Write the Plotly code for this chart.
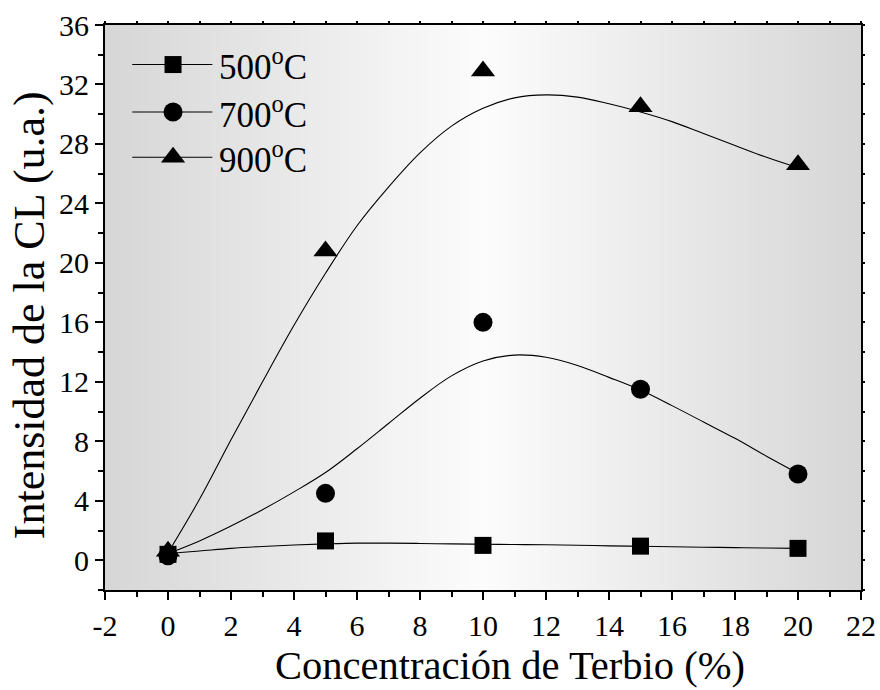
import plotly.graph_objects as go

# Terbium concentration (%) and measured CL intensity (a.u.) per annealing temperature
conc = [0, 5, 10, 15, 20]
cl_500 = [0.4, 1.3, 1.0, 0.95, 0.8]
cl_700 = [0.3, 4.5, 16.0, 11.5, 5.8]
cl_900 = [0.6, 20.8, 32.9, 30.5, 26.6]

# Smoothed trend curves
fit_x = list(range(0, 21))
fit_500 = [0.45, 0.62, 0.8, 0.93, 1.03, 1.1, 1.15, 1.15, 1.13, 1.1, 1.08,
           1.06, 1.04, 1.01, 0.97, 0.94, 0.91, 0.88, 0.85, 0.82, 0.8]
fit_700 = [0.45, 1.3, 2.3, 3.4, 4.6, 5.9, 7.5, 9.2, 10.9, 12.4, 13.4,
           13.8, 13.65, 13.1, 12.3, 11.45, 10.4, 9.3, 8.2, 7.0, 5.85]
fit_900 = [0.5, 4.1, 8.1, 12.0, 15.8, 19.3, 22.5, 25.1, 27.4, 29.2, 30.4,
           31.1, 31.3, 31.15, 30.7, 30.15, 29.5, 28.7, 27.9, 27.1, 26.4]

# Tick labels
x_ticks = [-2, 0, 2, 4, 6, 8, 10, 12, 14, 16, 18, 20, 22]
x_ticktext = ["-2", "0", "2", "4", "6", "8", "10", "12", "14", "16", "18", "20", "22"]
y_ticks = [0, 4, 8, 12, 16, 20, 24, 28, 32, 36]

labels = ["500<sup>o</sup>C", "700<sup>o</sup>C", "900<sup>o</sup>C"]
symbols = ["square", "circle", "triangle-up"]
sizes = [17, 19, 21]

FONT = "Liberation Serif"

fig = go.Figure()

# shaded plot background: grey at the edges, almost white in the middle
fig.add_trace(go.Heatmap(
    x=[-2, 10, 22], y=[-2, 36], z=[[0, 1, 0], [0, 1, 0]],
    colorscale=[[0, "#d6d6d6"], [1, "#fcfcfc"]], zsmooth="best",
    showscale=False, hoverinfo="skip"))

for fy in (fit_500, fit_700, fit_900):
    fig.add_trace(go.Scatter(x=fit_x, y=fy, mode="lines",
                             line=dict(color="black", width=1.1, shape="spline"),
                             showlegend=False, hoverinfo="skip"))

for vals, sym, sz in zip((cl_500, cl_700, cl_900), symbols, sizes):
    fig.add_trace(go.Scatter(x=conc, y=vals, mode="markers",
                             marker=dict(symbol=sym, size=sz, color="black"),
                             showlegend=False))

# empty trace so the top/right tick axes get drawn
fig.add_trace(go.Scatter(x=[None], y=[None], xaxis="x2", yaxis="y2",
                         showlegend=False, hoverinfo="skip"))

# hand-made legend (paper-fraction overlay axes)
leg_rows = [0.930, 0.846, 0.766]
leg_x0, leg_x1, leg_xm, leg_xt = 0.036, 0.142, 0.090, 0.148
for row, sym, sz, lab in zip(leg_rows, symbols, sizes, labels):
    fig.add_shape(type="line", xref="paper", yref="paper",
                  x0=leg_x0, x1=leg_x1, y0=row, y1=row,
                  line=dict(color="black", width=1.1))
    fig.add_trace(go.Scatter(x=[leg_xm], y=[row], xaxis="x3", yaxis="y3",
                             mode="markers", showlegend=False, hoverinfo="skip",
                             marker=dict(symbol=sym, size=sz, color="black")))
    fig.add_annotation(x=leg_xt, y=row, xref="paper", yref="paper",
                       text=lab, showarrow=False, xanchor="left", yanchor="middle",
                       font=dict(family=FONT, size=35, color="black"))

# axis titles
fig.add_annotation(x=0.536, y=-0.134, xref="paper", yref="paper",
                   text="Concentración de Terbio (%)", showarrow=False,
                   xanchor="center", yanchor="middle",
                   font=dict(family=FONT, size=40.5, color="black"))
fig.add_annotation(x=-0.1, y=0.487, xref="paper", yref="paper",
                   text="Intensidad de la CL (u.a.)", showarrow=False, textangle=-90,
                   xanchor="center", yanchor="middle",
                   font=dict(family=FONT, size=44, color="black"))

axis_common = dict(showgrid=False, zeroline=False, showline=True, automargin=False,
                   linecolor="black", linewidth=2, mirror=True,
                   ticks="outside", tickcolor="black", tickwidth=2, ticklen=8,
                   tickfont=dict(family=FONT, size=30, color="black"))

fig.update_layout(
    width=880, height=690,
    margin=dict(l=105, r=19, t=25, b=100),
    paper_bgcolor="white", plot_bgcolor="white",
    showlegend=False,
    xaxis=dict(range=[-2, 22], tickmode="array", tickvals=x_ticks, ticktext=x_ticktext,
               minor=dict(dtick=1, ticklen=5, ticks="outside",
                          tickcolor="black", tickwidth=1.5),
               **axis_common),
    yaxis=dict(range=[-2, 36], tickmode="array", tickvals=y_ticks,
               minor=dict(dtick=2, ticklen=5, ticks="outside",
                          tickcolor="black", tickwidth=1.5),
               **axis_common),
    xaxis2=dict(overlaying="x", side="top", range=[-2, 22], dtick=1, tick0=0,
                ticks="outside", ticklen=3, tickwidth=1.5, tickcolor="black",
                showticklabels=False, showgrid=False, zeroline=False, showline=False),
    yaxis2=dict(overlaying="y", side="right", range=[-2, 36], dtick=2, tick0=0,
                ticks="outside", ticklen=3, tickwidth=1.5, tickcolor="black",
                showticklabels=False, showgrid=False, zeroline=False, showline=False),
    xaxis3=dict(overlaying="x", range=[0, 1], visible=False),
    yaxis3=dict(overlaying="y", range=[0, 1], visible=False),
)

fig.write_html("out.html")
